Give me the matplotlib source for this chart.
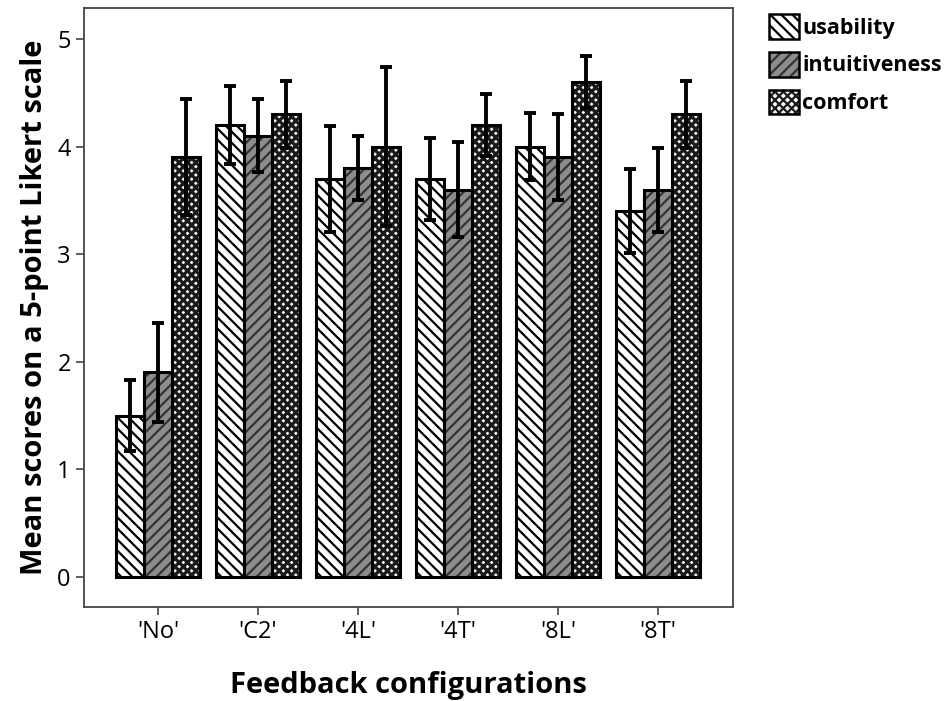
import numpy as np
import matplotlib
matplotlib.use('Agg')
import matplotlib.pyplot as plt
from matplotlib.patches import Patch
from matplotlib.legend_handler import HandlerTuple

plt.rcParams['font.family'] = ['Open Sans', 'DejaVu Sans']
plt.rcParams['hatch.linewidth'] = 1.6

configs = ["'No'", "'C2'", "'4L'", "'4T'", "'8L'", "'8T'"]
usability = [1.5, 4.2, 3.7, 3.7, 4.0, 3.4]
usability_err = [0.33, 0.36, 0.49, 0.38, 0.31, 0.39]
intuitiveness = [1.9, 4.1, 3.8, 3.6, 3.9, 3.6]
intuitiveness_err = [0.46, 0.34, 0.30, 0.44, 0.40, 0.39]
comfort = [3.9, 4.3, 4.0, 4.2, 4.6, 4.3]
comfort_err = [0.54, 0.31, 0.74, 0.29, 0.24, 0.31]

# name, values, errors, face, hatch, hatch colour, hatch width
series = [
    ('usability', usability, usability_err, 'white', '\\\\\\', 'black', 1.6),
    ('intuitiveness', intuitiveness, intuitiveness_err, '#8c8c8c', '///', '#333333', 1.6),
    ('comfort', comfort, comfort_err, '#f4f4f4', 'xxxx', '#1a1a1a', 2.3),
]

fig = plt.figure(figsize=(9.47, 7.01), dpi=100)
ax = fig.add_axes([0.0887, 0.134, 0.685, 0.855])

x = np.arange(len(configs))
w = 0.28
handles = []
for i, (name, vals, errs, fc, hatch, hc, hlw) in enumerate(series):
    pos = x + (i - 1) * w
    with plt.rc_context({'hatch.linewidth': hlw}):
        # hatch pass
        ax.bar(pos, vals, w, color=fc, edgecolor=hc, hatch=hatch, linewidth=0, zorder=2)
        hp = Patch(facecolor=fc, edgecolor=hc, hatch=hatch, linewidth=0)
    # outline pass
    ax.bar(pos, vals, w, fill=False, edgecolor='black', linewidth=2.2, zorder=3)
    ax.errorbar(pos, vals, yerr=errs, fmt='none', ecolor='black', elinewidth=2.8,
                capsize=4, capthick=2.8, zorder=4)
    handles.append((hp, Patch(fill=False, edgecolor='black', linewidth=1.8)))

ax.set_xlim(-0.74, 5.75)
ax.set_ylim(-0.28, 5.29)
ax.set_xticks(x)
ax.set_xticklabels(configs, fontsize=17)
ax.set_yticks([0, 1, 2, 3, 4, 5])
ax.tick_params(axis='y', labelsize=17, length=6, width=1.2, color='#444444')
ax.tick_params(axis='x', length=6, width=1.2, color='#444444', pad=3)
for s in ax.spines.values():
    s.set_color('#444444')
    s.set_linewidth(1.3)

ax.set_ylabel('Mean scores on a 5-point Likert scale', fontsize=21, fontweight='bold', labelpad=6)
ax.set_xlabel('Feedback configurations', fontsize=21, fontweight='bold', labelpad=20)

leg = fig.legend(handles, [s[0] for s in series], loc='upper left',
                 bbox_to_anchor=(0.797, 1.0), frameon=False,
                 prop={'weight': 'bold', 'size': 15.5},
                 handler_map={tuple: HandlerTuple(ndivide=1, pad=0)},
                 handlelength=1.4, handleheight=1.4, handletextpad=0.15,
                 labelspacing=0.6, borderaxespad=0.25)

fig.savefig('out.png', dpi=100)
